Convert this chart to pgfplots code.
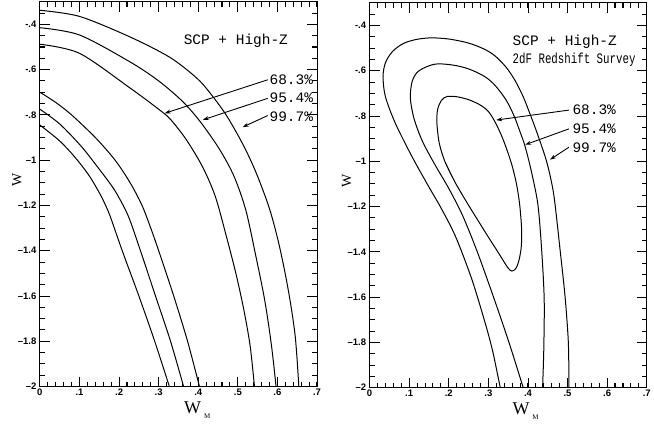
\documentclass[border=0pt]{standalone}
\usepackage{fontspec}
\setmainfont{Liberation Sans}
\setmonofont{Liberation Mono}
\newfontfamily\seriffont{Liberation Serif}
\usepackage{graphicx}
\usepackage{pgfplots}
\pgfplotsset{compat=1.18}
\usetikzlibrary{arrows.meta}

\tikzset{
  lab/.style={anchor=base west, inner sep=0pt, font=\ttfamily\fontsize{14.5}{15}\selectfont},
  arr/.style={-{Stealth[length=6pt,width=4pt]}, line width=0.9pt},
  tk/.style={black, line width=0.9pt},
}
\pgfplotsset{
  panel/.style={
    scale only axis, width=278pt, height=386pt,
    xmin=0, xmax=0.7, ymin=-2, ymax=-0.3,
    xtick={0,0.1,0.2,0.3,0.4,0.5,0.6,0.7},
    xticklabels={0,.1,.2,.3,.4,.5,.6,.7},
    ytick={-2,-1.8,-1.6,-1.4,-1.2,-1,-0.8,-0.6,-0.4},
    yticklabels={--2,--1.8,--1.6,--1.4,--1.2,--1,-.8,-.6,-.4},
    minor x tick num=4, minor y tick num=3,
    xtick pos=both, ytick pos=both,
    xticklabel pos=lower, yticklabel pos=left,
    major tick length=10pt, minor tick length=5pt,
    major tick style={black, line width=0.9pt},
    minor tick style={black, line width=0.9pt},
    axis line style={line width=1pt},
    tick label style={font=\bfseries\fontsize{9.5}{10}\selectfont},
    xticklabel style={yshift=1pt},
    ylabel={\seriffont\fontsize{14}{14}\selectfont W},
    ylabel style={at={(axis description cs:-0.083,0.537)}, anchor=center, inner sep=0pt},
    xlabel style={anchor=north, inner sep=0pt, yshift=-15pt},
  },
  curve/.style={black, line width=1pt, smooth, tension=0.5, mark=none},
  handticks/.style={
    execute at end axis={
      \pgfplotsinvokeforeach{0.02,0.04,...,0.69}{
        \draw[tk] (axis cs:##1,-2) -- ([yshift=5pt]axis cs:##1,-2);
        \draw[tk] (axis cs:##1,-0.3) -- ([yshift=-5pt]axis cs:##1,-0.3);}
      \pgfplotsinvokeforeach{0.1,0.2,0.3,0.4,0.5,0.6}{
        \draw[tk] (axis cs:##1,-2) -- ([yshift=10pt]axis cs:##1,-2);
        \draw[tk] (axis cs:##1,-0.3) -- ([yshift=-10pt]axis cs:##1,-0.3);}
      \pgfplotsinvokeforeach{-1.95,-1.9,...,-0.32}{
        \draw[tk] (axis cs:0,##1) -- ([xshift=5pt]axis cs:0,##1);
        \draw[tk] (axis cs:0.7,##1) -- ([xshift=-5pt]axis cs:0.7,##1);}
      \pgfplotsinvokeforeach{-1.8,-1.6,-1.4,-1.2,-1,-0.8,-0.6,-0.4}{
        \draw[tk] (axis cs:0,##1) -- ([xshift=10pt]axis cs:0,##1);
        \draw[tk] (axis cs:0.7,##1) -- ([xshift=-10pt]axis cs:0.7,##1);}
    }
  },
}

\begin{document}
\begin{tikzpicture}

% ---------------- Left panel ----------------
\begin{axis}[panel, handticks, at={(40pt,37.3pt)}, anchor=south west,
  xlabel={\seriffont\fontsize{18}{18}\selectfont W\hspace{3pt}\raisebox{-5pt}{\fontsize{7}{7}\selectfont M}},
  xlabel style={at={(axis description cs:0.568,0)}}]
\addplot[curve] coordinates {(0,-0.338) (0.1,-0.365) (0.2267,-0.455) (0.3275,-0.545) (0.3947,-0.635) (0.4283,-0.70) (0.4703,-0.80) (0.5127,-0.93) (0.546,-1.055) (0.58,-1.215) (0.605,-1.38) (0.628,-1.58) (0.645,-1.78) (0.654,-2.0)};
\addplot[curve] coordinates {(0,-0.415) (0.1,-0.447) (0.2267,-0.565) (0.30,-0.65) (0.36,-0.74) (0.405,-0.83) (0.453,-0.95) (0.49,-1.07) (0.52,-1.22) (0.545,-1.42) (0.568,-1.62) (0.585,-1.82) (0.5965,-2.0)};
\addplot[curve] coordinates {(0,-0.488) (0.1,-0.528) (0.2267,-0.68) (0.30,-0.775) (0.33,-0.82) (0.37,-0.91) (0.411,-1.03) (0.443,-1.16) (0.47,-1.33) (0.495,-1.50) (0.515,-1.66) (0.531,-1.82) (0.542,-2.0)};
\addplot[curve] coordinates {(0,-0.70) (0.04,-0.745) (0.08,-0.80) (0.14,-0.90) (0.19,-1.0) (0.228,-1.1) (0.258,-1.2) (0.28,-1.3) (0.30,-1.4) (0.338,-1.6) (0.373,-1.8) (0.403,-2.0)};
\addplot[curve] coordinates {(0,-0.775) (0.05,-0.84) (0.105,-0.94) (0.15,-1.04) (0.18,-1.11) (0.198,-1.16) (0.224,-1.25) (0.254,-1.4) (0.292,-1.6) (0.330,-1.8) (0.363,-2.0)};
\addplot[curve] coordinates {(0,-0.845) (0.05,-0.915) (0.09,-0.99) (0.125,-1.07) (0.152,-1.15) (0.166,-1.2) (0.178,-1.25) (0.208,-1.4) (0.25,-1.6) (0.29,-1.8) (0.327,-2.0)};

\node[lab] at (axis cs:0.363,-0.488) {SCP + High-Z};
\node[lab] at (axis cs:0.5797,-0.667) {68.3\%};
\node[lab] at (axis cs:0.5797,-0.7475) {95.4\%};
\node[lab] at (axis cs:0.5797,-0.828) {99.7\%};
\draw[arr] (axis cs:0.5755,-0.645) -- (axis cs:0.3152,-0.793);
\draw[arr] (axis cs:0.5755,-0.727) -- (axis cs:0.4115,-0.822);
\draw[arr] (axis cs:0.5755,-0.803) -- (axis cs:0.5123,-0.854);
\end{axis}

% ---------------- Right panel ----------------
\begin{axis}[panel, handticks, at={(370.7pt,36.2pt)}, anchor=south west,
  xlabel={\seriffont\fontsize{18}{18}\selectfont W\hspace{3pt}\raisebox{-5pt}{\fontsize{7}{7}\selectfont M}},
  xlabel style={at={(axis description cs:0.563,0)}}]
\addplot[curve] coordinates {(0.330,-2.0) (0.311,-1.84) (0.292,-1.715) (0.258,-1.52) (0.2165,-1.33) (0.18,-1.205) (0.149,-1.111) (0.107,-0.979) (0.065,-0.832) (0.040,-0.715) (0.034,-0.627) (0.040,-0.565) (0.058,-0.515) (0.085,-0.48) (0.118,-0.462) (0.155,-0.455) (0.20,-0.46) (0.25,-0.478) (0.29,-0.505) (0.317,-0.535) (0.345,-0.585) (0.368,-0.645) (0.388,-0.715) (0.405,-0.79) (0.42,-0.86) (0.435,-0.935) (0.447,-1.0) (0.458,-1.08) (0.467,-1.17) (0.481,-1.389) (0.4935,-1.594) (0.502,-1.80) (0.5035,-2.0)};
\addplot[curve] coordinates {(0.388,-2.0) (0.352,-1.80) (0.313,-1.6) (0.272,-1.40) (0.235,-1.24) (0.2,-1.12) (0.165,-1.015) (0.133,-0.91) (0.112,-0.81) (0.103,-0.72) (0.108,-0.645) (0.125,-0.6) (0.165,-0.571) (0.21,-0.575) (0.25,-0.592) (0.29,-0.625) (0.317,-0.665) (0.345,-0.73) (0.365,-0.80) (0.38,-0.87) (0.392,-0.93) (0.408,-1.04) (0.425,-1.19) (0.4345,-1.389) (0.441,-1.609) (0.440,-1.829) (0.437,-2.0)};
\addplot[curve] coordinates {(0.245,-1.18) (0.215,-1.09) (0.19,-1.0) (0.176,-0.92) (0.17,-0.83) (0.172,-0.77) (0.182,-0.73) (0.196,-0.714) (0.22,-0.715) (0.25,-0.728) (0.278,-0.75) (0.30,-0.78) (0.318,-0.83) (0.334,-0.89) (0.347,-0.95) (0.36,-1.02) (0.371,-1.10) (0.379,-1.19) (0.384,-1.30) (0.383,-1.38) (0.377,-1.44) (0.369,-1.475) (0.359,-1.485) (0.350,-1.472) (0.338,-1.44) (0.322,-1.395) (0.30,-1.335) (0.275,-1.265) (0.245,-1.18) (0.215,-1.09) (0.19,-1.0)};

\node[lab] at (axis cs:0.361,-0.488) {SCP + High-Z};
\node[lab] at (axis cs:0.361,-0.568) {\scalebox{0.745}[1]{2dF Redshift Survey}};
\node[lab] at (axis cs:0.512,-0.7925) {68.3\%};
\node[lab] at (axis cs:0.512,-0.878) {95.4\%};
\node[lab] at (axis cs:0.512,-0.960) {99.7\%};
\draw[arr] (axis cs:0.5035,-0.774) -- (axis cs:0.32,-0.818);
\draw[arr] (axis cs:0.5035,-0.857) -- (axis cs:0.393,-0.927);
\draw[arr] (axis cs:0.5035,-0.938) -- (axis cs:0.4557,-0.993);
\end{axis}
\path[use as bounding box] (0,0) rectangle (654pt,425pt);
\end{tikzpicture}
\end{document}
